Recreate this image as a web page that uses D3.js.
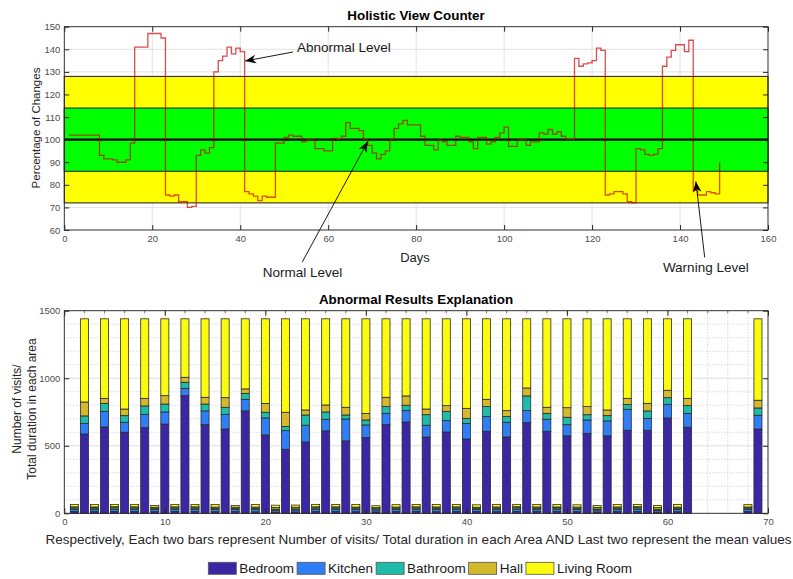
<!DOCTYPE html>
<html lang="en">
<head>
<meta charset="utf-8">
<title>Holistic View Counter</title>
<script src="https://cdn.jsdelivr.net/npm/d3@7/dist/d3.min.js"></script>
<style>
  body { margin: 0; background: #fff; }
  text { font-family: "Liberation Sans", Arial, sans-serif; }
</style>
</head>
<body>
<script>
// ---- top chart: daily counter (stairs), day 1..149
var counter = [
  102,102,102,102,102,102,102,93,91.5,91.5,91,90,90,91,98.5,141,141,141,147,147,
  147,145,75.5,75,75.5,72.5,72.5,70,70.5,93,95.5,94,96.5,130,135,137,141,138,140.5,139,
  77,76,75,73,75,74.5,74.5,98.5,98.5,101,102,101.5,101.5,99,100,100,96,96,95,95,
  100.5,100,101.5,107.5,105,105,104,100,97.5,94,91.5,93.5,95,100,105,107,108.5,106.5,106.5,106.5,
  101.5,97.5,97.5,95.5,100,99,97.5,97.5,101.5,101,101,99,96,101,101,98,99,101,103,105.5,
  97,97,100,100,97.5,99,99,103,102.5,104.5,102.5,103.5,101.5,100,100,136,132.5,133.5,134,135,
  140.5,139.5,75.5,76,77,77,76,72.5,72,96,95.5,93.5,93,93.5,96,132.5,136.5,139.5,142,142,
  139,144,77.5,75.5,75.5,77,76.5,76,90
];
var xTicksTop = [0, 20, 40, 60, 80, 100, 120, 140, 160];
var yTicksTop = [60, 70, 80, 90, 100, 110, 120, 130, 140, 150];
var warnBand = [72, 128];
var normalBand = [86, 114];
var baseline = 100;
var notes = [
  {label: "Abnormal Level", tx: 52.9, ty: 140.6, from: [52, 138.8], to: [41.1, 134.8]},
  {label: "Normal Level",   tx: 45.1, ty: 41.4,  from: [54.1, 45.8], to: [69, 99.2]},
  {label: "Warning Level",  tx: 136.1, ty: 43.6, from: [145.6, 47.9], to: [143.6, 81.5]}
];

// ---- bottom chart: stacked bars
var areas = ["Bedroom", "Kitchen", "Bathroom", "Hall", "Living Room"];
var colors = ["#3b27a6", "#2f7ef5", "#1fbcaa", "#d3b92b", "#fbfb10"];
var bigPos = [2,4,6,8,10,12,14,16,18,20,22,24,26,28,30,32,34,36,38,40,42,44,46,48,50,52,54,56,58,60,62,69];
var bigBed  = [587,639,600,634,661,871,656,624,758,580,474,528,610,536,560,656,676,565,602,550,607,565,671,607,573,592,573,615,615,706,637,624];
var bigKit  = [79,116,74,99,89,54,102,109,86,126,138,124,86,162,94,84,84,87,84,116,109,109,89,89,83,99,111,155,88,101,103,102];
var bigBath = [55,59,49,62,59,45,51,52,44,42,30,76,54,30,37,50,40,78,69,37,74,42,109,44,55,39,39,35,55,49,57,54];
var bigHall = [103,37,49,56,62,37,50,71,33,66,106,37,52,57,49,69,69,42,42,74,54,44,59,45,71,60,42,46,56,55,54,57];
var bigLiv  = [616,589,668,589,569,433,581,584,519,626,692,675,638,655,700,581,571,668,643,663,596,680,512,655,658,650,675,589,626,529,589,603];
var smallPos = [1,3,5,7,9,11,13,15,17,19,21,23,25,27,29,31,33,35,37,39,41,43,45,47,49,51,53,55,57,59,61,68];
var smallBed  = [14,13,14,13,12,14,13,12,14,11,9,10,14,13,12,10,13,14,12,14,13,12,14,13,14,12,10,13,14,9,12,13];
var smallKit  = [16,17,16,17,16,16,17,16,15,17,14,15,16,17,16,15,16,16,17,16,15,16,17,16,16,16,14,16,17,13,16,16];
var smallBath = [10,10,11,10,10,10,10,10,9,10,8,8,10,10,11,9,10,10,10,10,10,11,10,10,10,10,8,10,10,8,10,10];
var smallHall = [8,7,8,8,7,8,8,8,7,8,12,12,8,8,7,8,7,8,8,8,7,8,8,8,7,8,12,8,8,12,8,8];
var smallLiv  = [18,18,17,18,13,18,18,19,13,19,17,16,18,17,19,14,18,17,18,17,18,19,17,18,18,17,13,18,17,15,19,17];
var xTicksBot = [0, 10, 20, 30, 40, 50, 60, 70];
var yTicksBot = [0, 500, 1000, 1500];

var svg = d3.select("body").append("svg").attr("width", 793).attr("height", 579);
var tickCol = "#4d4d4d", boxCol = "#262626";

function frame(g, x, y, xt, yt) {
  var r = x.range(), b = y.range();
  g.append("g").attr("transform", "translate(0," + b[0] + ")")
    .call(d3.axisBottom(x).tickValues(xt).tickSize(-5).tickPadding(5).tickFormat(d3.format("d")));
  g.append("g").attr("transform", "translate(" + r[0] + ",0)")
    .call(d3.axisLeft(y).tickValues(yt).tickSize(-5).tickPadding(4).tickFormat(d3.format("d")));
  g.append("g").attr("transform", "translate(0," + b[1] + ")")
    .call(d3.axisTop(x).tickValues(xt).tickSize(-5).tickFormat(""));
  g.append("g").attr("transform", "translate(" + r[1] + ",0)")
    .call(d3.axisRight(y).tickValues(yt).tickSize(-5).tickFormat(""));
  g.selectAll(".domain").remove();
  g.selectAll(".tick line").attr("stroke", boxCol);
  g.selectAll(".tick text").attr("fill", tickCol).style("font-size", "9.5px")
    .style("font-family", "'Liberation Sans', Arial, sans-serif");
  g.append("rect").attr("x", r[0]).attr("y", b[1]).attr("width", r[1] - r[0]).attr("height", b[0] - b[1])
    .attr("fill", "none").attr("stroke", boxCol).attr("stroke-width", 0.9);
}

// ================= top chart =================
var x1 = d3.scaleLinear().domain([0, 160]).range([64.3, 768]);
var y1 = d3.scaleLinear().domain([60, 150]).range([230, 26.7]);
var gTop = svg.append("g");

gTop.selectAll(".gx").data(xTicksTop).enter().append("line")
  .attr("x1", d => x1(d)).attr("x2", d => x1(d)).attr("y1", y1(60)).attr("y2", y1(150))
  .attr("stroke", "#e2e2e2");
gTop.selectAll(".gy").data(yTicksTop).enter().append("line")
  .attr("x1", x1(0)).attr("x2", x1(160)).attr("y1", d => y1(d)).attr("y2", d => y1(d))
  .attr("stroke", "#e2e2e2");

[[warnBand, "#ffff00"], [normalBand, "#00ff00"]].forEach(function (b) {
  gTop.append("rect").attr("x", x1(0)).attr("width", x1(160) - x1(0))
    .attr("y", y1(b[0][1])).attr("height", y1(b[0][0]) - y1(b[0][1]))
    .attr("fill", b[1]).attr("stroke", "#1a1a1a").attr("stroke-width", 1);
});
gTop.append("line").attr("x1", x1(0)).attr("x2", x1(160))
  .attr("y1", y1(baseline)).attr("y2", y1(baseline)).attr("stroke", "#000").attr("stroke-width", 2.2);

var stairs = d3.line().x((d, i) => x1(i + 1)).y(d => y1(d)).curve(d3.curveStepAfter);
gTop.append("path").datum(counter).attr("d", stairs)
  .attr("fill", "none").attr("stroke", "#d00000").attr("stroke-opacity", 0.7).attr("stroke-width", 1.3);

frame(gTop, x1, y1, xTicksTop, yTicksTop);

svg.append("defs").append("marker").attr("id", "head")
  .attr("viewBox", "0 0 10 10").attr("refX", 10).attr("refY", 5)
  .attr("markerWidth", 11).attr("markerHeight", 11).attr("markerUnits", "userSpaceOnUse")
  .attr("orient", "auto")
  .append("path").attr("d", "M0,1 L10,5 L0,9 L3,5 Z").attr("fill", "#000");

notes.forEach(function (n) {
  svg.append("line").attr("x1", x1(n.from[0])).attr("y1", y1(n.from[1]))
    .attr("x2", x1(n.to[0])).attr("y2", y1(n.to[1]))
    .attr("stroke", "#000").attr("stroke-width", 0.9).attr("marker-end", "url(#head)");
  svg.append("text").attr("x", x1(n.tx)).attr("y", y1(n.ty) + 4.5)
    .style("font-size", "13.5px").attr("fill", "#1a1a1a").text(n.label);
});

svg.append("text").attr("x", 416).attr("y", 19.5).attr("text-anchor", "middle")
  .style("font-size", "13.4px").style("font-weight", "bold").text("Holistic View Counter");
svg.append("text").attr("x", 415).attr("y", 262).attr("text-anchor", "middle")
  .style("font-size", "13px").attr("fill", "#262626").text("Days");
svg.append("text").attr("transform", "translate(40,128) rotate(-90)").attr("text-anchor", "middle")
  .style("font-size", "11.5px").attr("fill", "#262626").text("Percentage of Changes");

// ================= bottom chart =================
var x2 = d3.scaleLinear().domain([0, 70]).range([64.3, 768]);
var y2 = d3.scaleLinear().domain([0, 1500]).range([513.3, 310.7]);
var gBot = svg.append("g");

// minor dotted grid
gBot.selectAll(".mgx").data(d3.range(2, 70, 2).filter(v => v % 10)).enter().append("line")
  .attr("x1", d => x2(d)).attr("x2", d => x2(d)).attr("y1", y2(0)).attr("y2", y2(1500))
  .attr("stroke", "#c8c8c8").attr("stroke-dasharray", "1,2");
gBot.selectAll(".mgy").data(d3.range(100, 1500, 100).filter(v => v % 500)).enter().append("line")
  .attr("x1", x2(0)).attr("x2", x2(70)).attr("y1", d => y2(d)).attr("y2", d => y2(d))
  .attr("stroke", "#c8c8c8").attr("stroke-dasharray", "1,2");
gBot.selectAll(".gx").data(xTicksBot).enter().append("line")
  .attr("x1", d => x2(d)).attr("x2", d => x2(d)).attr("y1", y2(0)).attr("y2", y2(1500))
  .attr("stroke", "#e0e0e0");
gBot.selectAll(".gy").data(yTicksBot).enter().append("line")
  .attr("x1", x2(0)).attr("x2", x2(70)).attr("y1", d => y2(d)).attr("y2", d => y2(d))
  .attr("stroke", "#e0e0e0");

function rows(pos, a, b, c, d, e) {
  return pos.map((p, i) => ({pos: p, "Bedroom": a[i], "Kitchen": b[i], "Bathroom": c[i], "Hall": d[i], "Living Room": e[i]}));
}
var table = rows(bigPos, bigBed, bigKit, bigBath, bigHall, bigLiv)
  .concat(rows(smallPos, smallBed, smallKit, smallBath, smallHall, smallLiv));
var series = d3.stack().keys(areas)(table);

gBot.selectAll(".layer").data(series).enter().append("g")
  .attr("fill", (d, i) => colors[i])
  .selectAll("rect").data(d => d).enter().append("rect")
  .attr("x", d => x2(d.data.pos - 0.4)).attr("width", x2(0.8) - x2(0))
  .attr("y", d => y2(d[1])).attr("height", d => y2(d[0]) - y2(d[1]))
  .attr("stroke", "#2a2a2a").attr("stroke-width", 0.8);

// minor ticks on top edge
gBot.selectAll(".mt").data(d3.range(2, 70, 2).filter(v => v % 10)).enter().append("line")
  .attr("x1", d => x2(d)).attr("x2", d => x2(d)).attr("y1", y2(1500)).attr("y2", y2(1500) + 2.5)
  .attr("stroke", "#777");

frame(gBot, x2, y2, xTicksBot, yTicksBot);

svg.append("text").attr("x", 416).attr("y", 303.8).attr("text-anchor", "middle")
  .style("font-size", "13.4px").style("font-weight", "bold").text("Abnormal Results Explanation");
var yl = svg.append("text").attr("transform", "translate(21,409) rotate(-90)").attr("text-anchor", "middle")
  .style("font-size", "12px").attr("fill", "#262626");
yl.append("tspan").attr("x", 0).attr("dy", 0).text("Number of visits/");
yl.append("tspan").attr("x", 0).attr("dy", 15).text("Total duration in each area");
svg.append("text").attr("x", 418.5).attr("y", 544).attr("text-anchor", "middle")
  .style("font-size", "13.5px").attr("fill", "#262626")
  .text("Respectively, Each two bars represent Number of visits/ Total duration in each Area AND Last two represent the mean values");

// legend
var lx = 208.3;
areas.forEach(function (a, i) {
  svg.append("rect").attr("x", lx).attr("y", 562.3).attr("width", 28).attr("height", 12)
    .attr("fill", colors[i]).attr("stroke", "#555").attr("stroke-width", 0.8);
  var t = svg.append("text").attr("x", lx + 31).attr("y", 573).style("font-size", "13.5px")
    .attr("fill", "#1a1a1a").text(a);
  lx += 31 + t.node().getComputedTextLength() + 3;
});
</script>
</body>
</html>
